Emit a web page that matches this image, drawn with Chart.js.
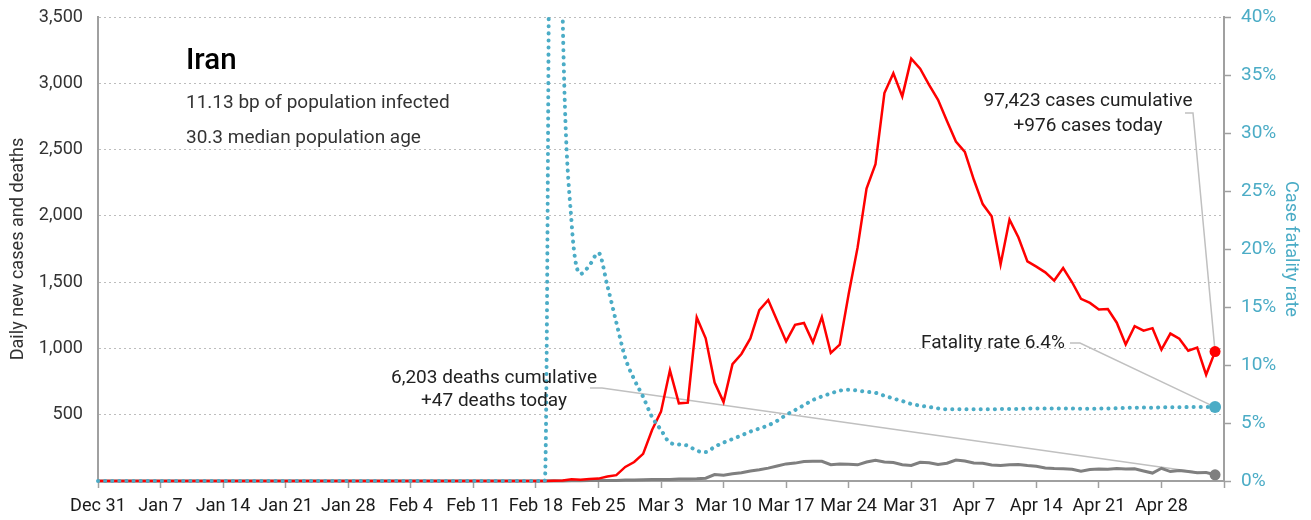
<!DOCTYPE html>
<html>
<head>
<meta charset="utf-8">
<script src="https://cdn.jsdelivr.net/npm/chart.js@4.4.1/dist/chart.umd.min.js"></script>
<style>
  html, body { margin: 0; padding: 0; background: #ffffff; }
  #wrap { width: 1311px; height: 520px; }
</style>
</head>
<body>
<div id="wrap"><canvas id="chart" width="1311" height="520"></canvas></div>
<script>
/* Iran - daily new cases, deaths and case fatality rate */

const BLUE = "#4bacc6";
const RED = "#ff0000";
const GREY = "#7f7f7f";

// x categories: one per day, Dec 31 .. May 5 (last slot has no data)
const MONTHS = ["Jan", "Feb", "Mar", "Apr", "May", "Jun", "Jul", "Aug", "Sep", "Oct", "Nov", "Dec"];
const DAY_COUNT = 127;
const days = [];
for (let i = 0; i < DAY_COUNT; i++) {
  const d = new Date(Date.UTC(2019, 11, 31 + i));
  days.push(MONTHS[d.getUTCMonth()] + " " + d.getUTCDate());
}

// daily new cases (Dec 31 .. May 4)
const dailyCases = [
  0, 0, 0, 0, 0, 0, 0, 0, 0, 0, 0, 0, 0, 0, 0, 0, 0, 0, 0, 0, 0, 0, 0, 0, 0, 0,
  0, 0, 0, 0, 0, 0, 0, 0, 0, 0, 0, 0, 0, 0, 0, 0, 0, 0, 0, 0, 0, 0, 0, 0, 0,
  2, 3, 13, 10, 15, 18, 34, 44, 106, 143, 205,
  385, 523, 835, 586, 591, 1234, 1076, 743, 595, 881, 958, 1075, 1289, 1365, 1209, 1053,
  1178, 1192, 1046, 1237, 966, 1028, 1411, 1762, 2206, 2389, 2926, 3076, 2901, 3186, 3110,
  2988, 2875, 2715, 2560, 2483, 2274, 2089, 1997, 1634, 1972, 1837, 1657, 1617, 1574, 1512,
  1606, 1499, 1374, 1343, 1294, 1297, 1194, 1030, 1168, 1134, 1153, 991, 1112, 1073, 983,
  1006, 802, 976
];

// daily new deaths
const dailyDeaths = [
  0, 0, 0, 0, 0, 0, 0, 0, 0, 0, 0, 0, 0, 0, 0, 0, 0, 0, 0, 0, 0, 0, 0, 0, 0, 0,
  0, 0, 0, 0, 0, 0, 0, 0, 0, 0, 0, 0, 0, 0, 0, 0, 0, 0, 0, 0, 0, 0, 0, 0, 0,
  2, 0, 2, 1, 3, 4, 4, 3, 7, 8, 9,
  11, 12, 11, 15, 15, 17, 21, 49, 43, 54, 63, 75, 85, 97, 113, 129,
  135, 147, 149, 149, 123, 129, 127, 122, 143, 157, 144, 139, 123, 117, 141,
  138, 124, 134, 158, 151, 136, 133, 121, 117, 122, 125, 117, 111, 98, 94,
  92, 89, 73, 87, 91, 88, 94, 90, 93, 76, 60, 96, 71, 80, 71,
  63, 65, 47
];

// case fatality rate, %
const fatalityRate = [
  0, 0, 0, 0, 0, 0, 0, 0, 0, 0, 0, 0, 0, 0, 0, 0, 0, 0, 0, 0, 0, 0, 0, 0, 0, 0,
  0, 0, 0, 0, 0, 0, 0, 0, 0, 0, 0, 0, 0, 0, 0, 0, 0, 0, 0, 0, 0, 0, 0, 0, 0,
  100, 40, 22.22, 17.86, 18.6, 19.67, 16.84, 13.67, 10.61, 8.76, 7.25,
  5.52, 4.4, 3.3, 3.15, 3.05, 2.61, 2.49, 2.95, 3.31, 3.62, 3.93, 4.26, 4.52, 4.8, 5.19, 5.69,
  6.11, 6.54, 6.98, 7.29, 7.55, 7.79, 7.86, 7.79, 7.69, 7.6, 7.35, 7.11, 6.89, 6.64, 6.5,
  6.38, 6.26, 6.19, 6.19, 6.19, 6.18, 6.19, 6.18, 6.21, 6.21, 6.22, 6.24, 6.25, 6.25, 6.25,
  6.24, 6.24, 6.22, 6.23, 6.24, 6.25, 6.27, 6.3, 6.32, 6.33, 6.31, 6.35, 6.35, 6.36, 6.37,
  6.37, 6.38, 6.37
];

const LAST = dailyCases.length - 1;

const titleText = "Iran";
const subtitleLines = ["11.13 bp of population infected", "30.3 median population age"];

// callouts: text lines, text centre, leader start/knee, dataset index of the end point
const callouts = [
  { lines: ["97,423 cases cumulative", "+976 cases today"], cx: 1088, y: [101, 126], lx0: 1185, lx1: 1193, ly: 113, dataset: 0 },
  { lines: ["Fatality rate 6.4%"], cx: 993, y: [343], lx0: 1070, lx1: 1080, ly: 343, dataset: 2 },
  { lines: ["6,203 deaths cumulative", "+47 deaths today"], cx: 494, y: [378, 401], lx0: 590, lx1: 602, ly: 388, dataset: 1 }
];

/**
 * The reference uses a condensed face. Try a few installed families (and the
 * font-stretch keyword) and keep the one whose width is closest to the
 * reference width of "Fatality rate 6.4%" (about 137px at 19px).
 */
function pickFont() {
  const probe = document.createElement("canvas").getContext("2d");
  const candidates = [
    ["normal", '"Liberation Sans Narrow"'],
    ["condensed", '"Open Sans"'],
    ["condensed", '"Noto Sans"'],
    ["condensed", "Roboto"],
    ["condensed", '"DejaVu Sans"'],
    ["normal", '"DejaVu Sans Condensed"'],
    ["normal", "Roboto"],
    ["normal", '"Liberation Sans"']
  ];
  let best = null;
  candidates.forEach(([stretch, family]) => {
    probe.font = stretch + " 19px " + family + ", sans-serif";
    const w = probe.measureText("Fatality rate 6.4%").width;
    const score = Math.abs(w - 137);
    if (!best || score < best.score) best = { stretch, family, w, score };
  });
  best.scale = Math.min(1.1, Math.max(0.85, 137 / best.w));
  return best;
}

const PICK = pickFont();
const FONT = PICK.family + ", sans-serif";
const STRETCH = PICK.stretch;
const sz = (px) => Math.round(px * PICK.scale * 10) / 10;

const lastOnly = (r) => (ctx) => (ctx.dataIndex === LAST ? r : 0);

// keep the plot area where the reference has it (tick padding must not push it down)
const noEdgePadding = (width) => (axis) => {
  axis.width = width;
  axis.paddingTop = 0;
  axis.paddingBottom = 0;
};

/** Leader lines under the data, texts on top. */
const calloutPlugin = {
  id: "callouts",
  beforeDatasetsDraw(chart) {
    const ctx = chart.ctx;
    ctx.save();
    ctx.strokeStyle = "#c0c0c0";
    ctx.lineWidth = 1.5;
    callouts.forEach((c) => {
      const pt = chart.getDatasetMeta(c.dataset).data[LAST];
      ctx.beginPath();
      ctx.moveTo(c.lx0, c.ly);
      ctx.lineTo(c.lx1, c.ly);
      ctx.lineTo(pt.x, pt.y);
      ctx.stroke();
    });
    ctx.restore();
  },
  afterDraw(chart) {
    const ctx = chart.ctx;
    ctx.save();
    ctx.textAlign = "center";
    ctx.textBaseline = "middle";
    ctx.fillStyle = "#222222";
    ctx.font = STRETCH + " " + sz(20) + "px " + FONT;
    callouts.forEach((c) => {
      c.lines.forEach((line, i) => ctx.fillText(line, c.cx, c.y[i]));
    });

    ctx.textAlign = "left";
    ctx.fillStyle = "#000000";
    ctx.font = "500 " + STRETCH + " " + sz(31) + "px " + FONT;
    ctx.fillText(titleText, 186, 62);
    ctx.fillStyle = "#333333";
    ctx.font = STRETCH + " " + sz(20) + "px " + FONT;
    ctx.fillText(subtitleLines[0], 186, 103);
    ctx.fillText(subtitleLines[1], 186, 138);
    ctx.restore();
  }
};

Chart.defaults.font.family = FONT;
Chart.defaults.font.weight = STRETCH;
Chart.defaults.font.size = sz(19);
Chart.defaults.color = "#333333";

new Chart(document.getElementById("chart").getContext("2d"), {
  type: "line",
  data: {
    labels: days,
    datasets: [
      {
        label: "Daily new cases",
        data: dailyCases,
        yAxisID: "y",
        order: 1,
        borderColor: RED,
        backgroundColor: RED,
        borderWidth: 2.5,
        pointRadius: lastOnly(5.5),
        pointBorderWidth: 0,
        tension: 0,
        clip: false
      },
      {
        label: "Daily new deaths",
        data: dailyDeaths,
        yAxisID: "y",
        order: 2,
        borderColor: GREY,
        backgroundColor: GREY,
        borderWidth: 3,
        pointRadius: lastOnly(5.5),
        pointBorderWidth: 0,
        tension: 0,
        clip: false
      },
      {
        label: "Case fatality rate",
        data: fatalityRate,
        yAxisID: "y1",
        order: 0,
        borderColor: BLUE,
        backgroundColor: BLUE,
        borderWidth: 4,
        borderDash: [0.1, 7],
        borderCapStyle: "round",
        cubicInterpolationMode: "monotone",
        pointRadius: lastOnly(6),
        pointBorderWidth: 0,
        clip: { left: 5, top: 0, right: 12, bottom: 5 }
      }
    ]
  },
  options: {
    responsive: false,
    animation: false,
    layout: { padding: { top: 17, left: 8, right: 8, bottom: 0 } },
    plugins: {
      legend: { display: false },
      tooltip: { enabled: false }
    },
    scales: {
      x: {
        type: "category",
        offset: false,
        afterBuildTicks: (axis) => {
          axis.ticks = axis.ticks.filter((t) => t.value % 7 === 0);
        },
        afterFit: (axis) => { axis.height = 39; },
        border: { color: "#a0a0a0", width: 2 },
        grid: { drawOnChartArea: false, drawTicks: true, tickLength: 7, tickColor: "#a0a0a0", tickWidth: 1.5 },
        ticks: {
          autoSkip: false,
          maxRotation: 0,
          minRotation: 0,
          padding: 8,
          color: "#1a1a1a",
          callback: function (value) {
            return value === DAY_COUNT - 1 ? "" : this.getLabelForValue(value);
          }
        }
      },
      y: {
        position: "left",
        min: 0,
        max: 3500,
        afterFit: noEdgePadding(90),
        border: { color: "#a0a0a0", width: 2, dash: [2, 3] },
        grid: { color: "#bdbdbd", lineWidth: 1, drawTicks: false },
        ticks: {
          stepSize: 500,
          padding: 15,
          color: "#333333",
          callback: (v) => (v === 0 ? "" : v.toLocaleString("en-US"))
        },
        title: { display: true, text: "Daily new cases and deaths", color: "#333333", padding: { top: 0, bottom: 4 } }
      },
      y1: {
        position: "right",
        min: 0,
        max: 40,
        afterFit: noEdgePadding(79),
        border: { color: "#a0a0a0", width: 2 },
        grid: { drawOnChartArea: false, drawTicks: true, tickLength: 7, tickColor: "#a0a0a0", tickWidth: 1.5 },
        ticks: {
          stepSize: 5,
          padding: 10,
          color: BLUE,
          font: { size: sz(20) },
          callback: (v) => v + "%"
        },
        title: { display: true, text: "Case fatality rate", color: BLUE, padding: { top: 2, bottom: 0 } }
      }
    }
  },
  plugins: [calloutPlugin]
});
</script>
</body>
</html>
